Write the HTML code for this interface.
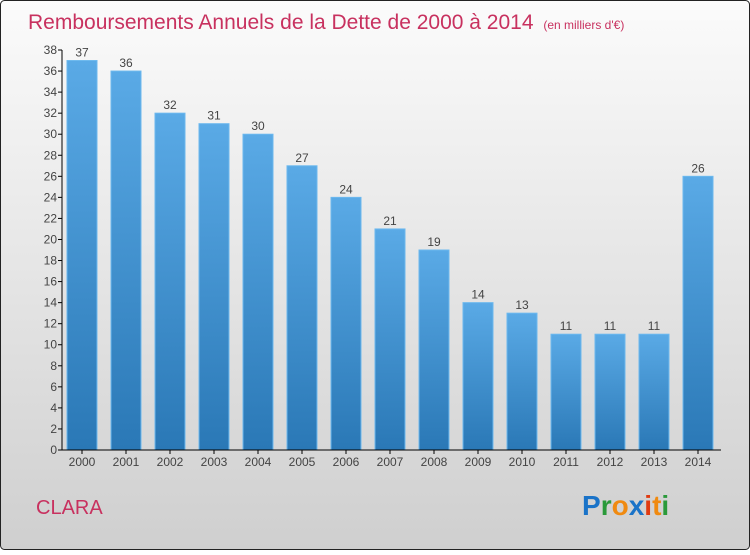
<!DOCTYPE html>
<html><head><meta charset="utf-8"><style>
body{margin:0;width:750px;height:550px;overflow:hidden;font-family:"Liberation Sans",sans-serif}
</style></head><body>
<svg width="750" height="550" xmlns="http://www.w3.org/2000/svg">
<defs>
<linearGradient id="bg" x1="0" y1="0" x2="0" y2="1"><stop offset="0" stop-color="#fbfbfb"/><stop offset="1" stop-color="#cfcfcf"/></linearGradient>
<linearGradient id="bar" x1="0" y1="0" x2="0" y2="1"><stop offset="0" stop-color="#5aaae6"/><stop offset="1" stop-color="#2a78b6"/></linearGradient>
</defs>
<rect x="0.5" y="0.5" width="749" height="549" rx="4" fill="url(#bg)" stroke="#222"/>
<text x="28" y="29" font-size="21" fill="#c8315f">Remboursements Annuels de la Dette de 2000 à 2014 <tspan font-size="12" dx="4">(en milliers d'€)</tspan></text>
<g id="yaxis"></g>
<g id="bars"></g>
<g id="xaxis"></g>
<text x="36" y="514" font-size="20" fill="#c8315f">CLARA</text>
<text x="582" y="515" font-size="28" font-weight="bold"><tspan fill="#1a73c8">P</tspan><tspan fill="#2a9a3a">r</tspan><tspan fill="#f08a10">o</tspan><tspan fill="#1a73c8">x</tspan><tspan fill="#e03a10">i</tspan><tspan fill="#f08a10">t</tspan><tspan fill="#2a9a3a">i</tspan></text>
</svg>
<script>
const categories=["2000","2001","2002","2003","2004","2005","2006","2007","2008","2009","2010","2011","2012","2013","2014"];
const values=[37,36,32,31,30,27,24,21,19,14,13,11,11,11,26];
const yTicks=[0,2,4,6,8,10,12,14,16,18,20,22,24,26,28,30,32,34,36,38];
const NS="http://www.w3.org/2000/svg";
const x0=62,x1=721,yBase=450,yTop=50,yMax=38;
const y=v=>yBase-(yBase-yTop)*v/yMax;
const step=44,first=82,bw=30;
const xc=i=>first+i*step;
function mk(t,a,p){const e=document.createElementNS(NS,t);for(const k in a)e.setAttribute(k,a[k]);p.appendChild(e);return e;}
const ya=document.getElementById('yaxis'),xa=document.getElementById('xaxis'),bg=document.getElementById('bars');
let l=mk('line',{x1:x0,y1:yTop,x2:x0,y2:yBase,stroke:'#000'},ya);


yTicks.forEach(v=>{
 const t=mk('line',{x1:x0-4,x2:x0,y1:y(v),y2:y(v),stroke:'#000'},ya);
 
 
 const tx=mk('text',{x:x0-5,y:y(v)+4,'font-size':12,fill:'#444','text-anchor':'end'},ya);
 tx.textContent=v;
 
 
});
values.forEach((v,i)=>{
 const r=mk('rect',{x:xc(i)-bw/2,y:y(v),width:bw,height:yBase-y(v),fill:'url(#bar)',stroke:'#6cb8ee','stroke-width':1},bg);
 
 
 const t=mk('text',{x:xc(i),y:y(v)-4,'font-size':12,fill:'#444','text-anchor':'middle'},bg);
 t.textContent=v;
 
 
 const tk=mk('line',{x1:xc(i),x2:xc(i),y1:yBase,y2:yBase+4,stroke:'#000'},xa);
 
 
 const c=mk('text',{x:xc(i),y:yBase+16,'font-size':12,fill:'#444','text-anchor':'middle'},xa);
 c.textContent=categories[i];
 
 
});
l=mk('line',{x1:x0,y1:yBase,x2:x1,y2:yBase,stroke:'#000'},xa);


</script>
</body></html>
